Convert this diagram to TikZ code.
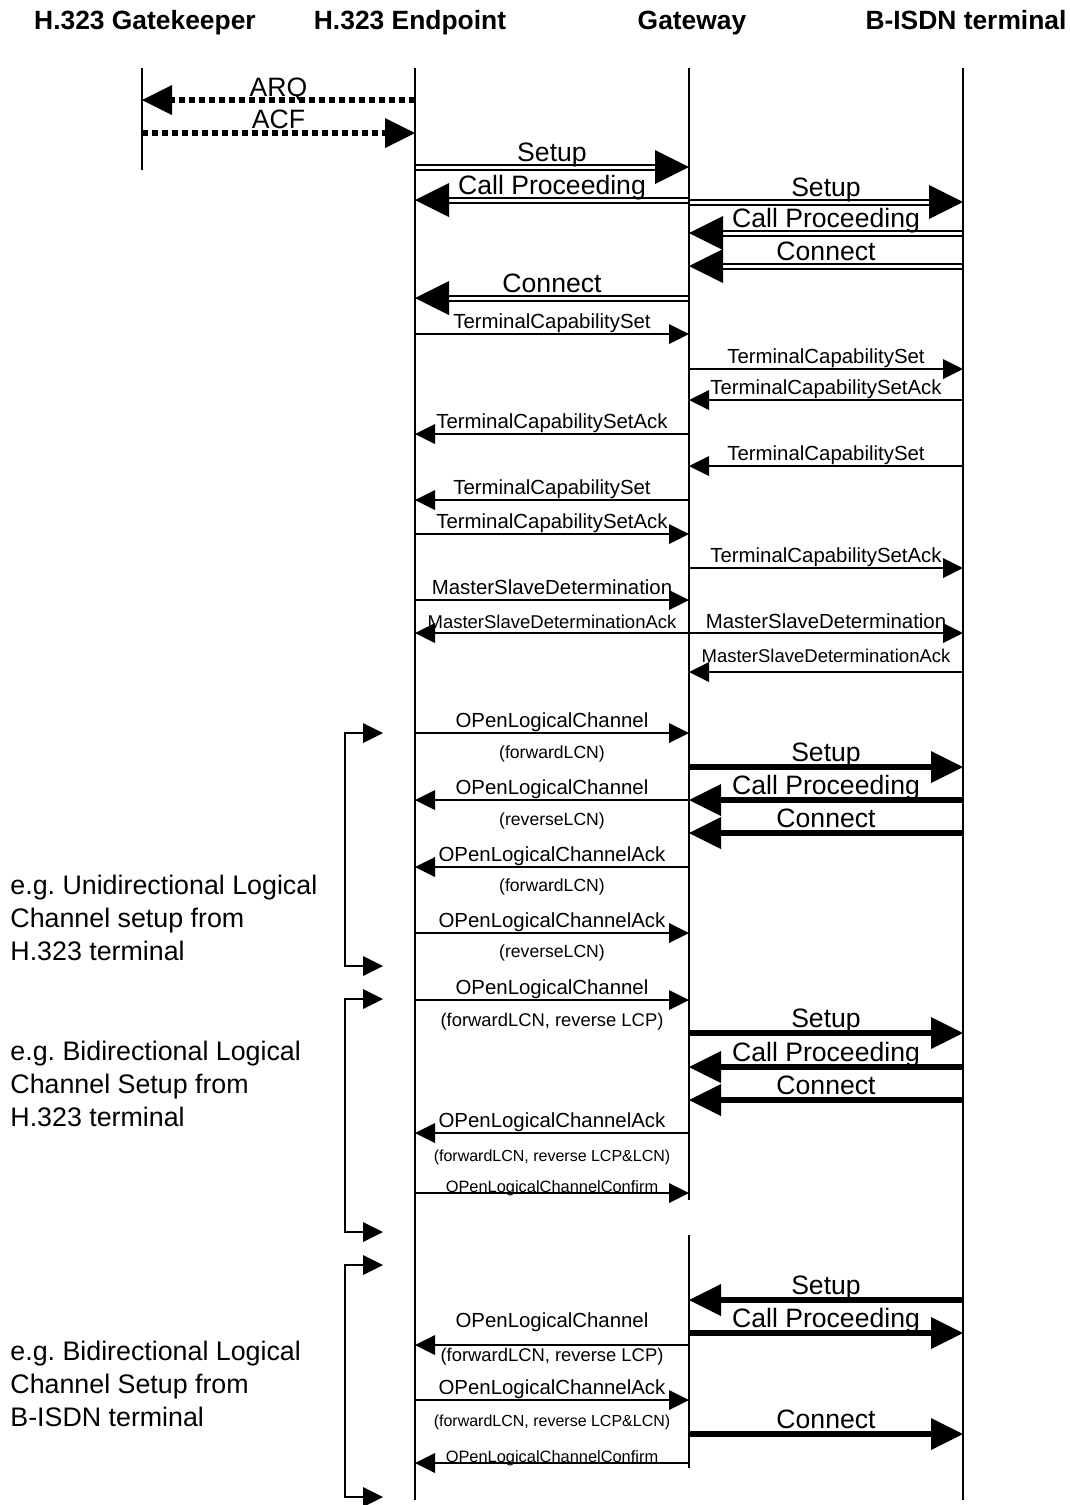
\documentclass[tikz,border=0pt]{standalone}
\usepackage{fontspec}
\setmainfont{Liberation Sans}
\usetikzlibrary{arrows.meta, calc}

% message between two lifelines at height #5
\newcommand{\msg}[6][midlbl,yshift=3pt]{%
  \draw[#2] (#3|-0,#5) -- node[anchor=base, #1] {#6} (#4|-0,#5);}
% thick call-control message
\newcommand{\tmsg}[4]{\msg[biglbl,yshift=2.75pt]{thick}{#1}{#2}{#3}{#4}}
% double-line call-control message
\newcommand{\dmsg}[4]{%
  \draw[dbl] (#1|-0,#3) -- node[anchor=base, biglbl, yshift=2.75pt] {#4} (#2|-0,#3);
  \draw[dblhead] ($(#2|-0,#3)!17pt!(#1|-0,#3)$) -- (#2|-0,#3);}

\begin{document}
\begin{tikzpicture}[
    x=0.5pt, y=-0.5pt,
    life/.style={line width=1.4pt},
    thin/.style={line width=0.75pt, -{Triangle[length=10pt, width=10pt, line width=0pt]}},
    thick/.style={line width=3.25pt, -{Triangle[length=16pt, width=16pt, line width=0pt]}},
    dots/.style={line width=2.8pt, dash pattern=on 3pt off 2pt,
                 -{Triangle[length=15pt, width=15pt, line width=0pt]}},
    dbl/.style={double, double distance=1.5pt, line width=1pt, shorten >=14pt},
    dblhead/.style={line width=1pt, -{Triangle[length=17pt, width=17pt, line width=0pt]}},
    brk/.style={line width=0.75pt, {Triangle[length=10pt, width=10pt, line width=0pt]}-{Triangle[length=10pt, width=10pt, line width=0pt]}},
    head/.style={anchor=base, font=\fontsize{13.2}{16}\selectfont\bfseries, inner sep=0pt},
    biglbl/.style={font=\fontsize{13.3}{16}\selectfont, inner sep=0pt},
    midlbl/.style={font=\fontsize{10.2}{12}\selectfont, inner sep=0pt},
    acklbl/.style={font=\fontsize{9.25}{11}\selectfont, inner sep=0pt},
    parlbl/.style={font=\fontsize{8.8}{11}\selectfont, inner sep=0pt},
    lcplbl/.style={font=\fontsize{9.2}{11}\selectfont, inner sep=0pt},
    lcnlbl/.style={font=\fontsize{8}{10}\selectfont, inner sep=0pt},
    cfmlbl/.style={font=\fontsize{8.2}{10}\selectfont, inner sep=0pt},
    note/.style={anchor=west, align=left, inner sep=0pt,
                 font=\fontsize{13.4}{16.5}\selectfont\frenchspacing},
  ]
  \useasboundingbox (0,0) rectangle (1070,1505);

  % headers and lifeline tops
  \node[head] (hgk) at (145,29) {H.323 Gatekeeper};
  \node[head] (hep) at (410,29) {H.323 Endpoint};
  \node[head] (hgw) at (692,29) {Gateway};
  \node[head] (hbt) at (966,29) {B-ISDN terminal};
  \coordinate (gk) at (142,68);
  \coordinate (ep) at (415,68);
  \coordinate (gw) at (689,68);
  \coordinate (bt) at (963,68);

  % admission and call setup
  \msg[biglbl,yshift=2pt]{dots}{ep}{gk}{100}{ARQ}
  \msg[biglbl,yshift=2.25pt]{dots}{gk}{ep}{133}{ACF}
  \dmsg{ep}{gw}{167}{Setup}
  \dmsg{gw}{ep}{200}{Call Proceeding}
  \dmsg{gw}{bt}{202}{Setup}
  \dmsg{bt}{gw}{233}{Call Proceeding}
  \dmsg{bt}{gw}{266}{Connect}
  \dmsg{gw}{ep}{298}{Connect}

  % capability exchange
  \msg{thin}{ep}{gw}{334}{TerminalCapabilitySet}
  \msg{thin}{gw}{bt}{369}{TerminalCapabilitySet}
  \msg{thin}{bt}{gw}{400}{TerminalCapabilitySetAck}
  \msg{thin}{gw}{ep}{434}{TerminalCapabilitySetAck}
  \msg{thin}{bt}{gw}{466}{TerminalCapabilitySet}
  \msg{thin}{gw}{ep}{500}{TerminalCapabilitySet}
  \msg{thin}{ep}{gw}{534}{TerminalCapabilitySetAck}
  \msg{thin}{gw}{bt}{568}{TerminalCapabilitySetAck}
  \msg{thin}{ep}{gw}{600}{MasterSlaveDetermination}
  \msg[acklbl,yshift=2.2pt]{thin}{gw}{ep}{633}{MasterSlaveDeterminationAck}
  \msg[midlbl,yshift=2.5pt]{thin}{gw}{bt}{633}{MasterSlaveDetermination}
  \msg[acklbl,yshift=4.7pt]{thin}{bt}{gw}{672}{MasterSlaveDeterminationAck}

  % unidirectional channel from H.323
  \msg{thin}{ep}{gw}{733}{OPenLogicalChannel}
  \node[parlbl] (p1) at (552,754) {(forwardLCN)};
  \tmsg{gw}{bt}{767}{Setup}
  \msg{thin}{gw}{ep}{800}{OPenLogicalChannel}
  \node[parlbl] (p2) at (552,821) {(reverseLCN)};
  \tmsg{bt}{gw}{800}{Call Proceeding}
  \tmsg{bt}{gw}{833}{Connect}
  \msg{thin}{gw}{ep}{867}{OPenLogicalChannelAck}
  \node[parlbl] (p3) at (552,887) {(forwardLCN)};
  \msg{thin}{ep}{gw}{933}{OPenLogicalChannelAck}
  \node[parlbl] (p4) at (552,953) {(reverseLCN)};

  % bidirectional channel from H.323
  \msg{thin}{ep}{gw}{1000}{OPenLogicalChannel}
  \node[lcplbl] (p5) at (552,1022) {(forwardLCN, reverse LCP)};
  \tmsg{gw}{bt}{1033}{Setup}
  \tmsg{bt}{gw}{1067}{Call Proceeding}
  \tmsg{bt}{gw}{1100}{Connect}
  \msg{thin}{gw}{ep}{1133}{OPenLogicalChannelAck}
  \node[lcnlbl] (p6) at (552,1157) {(forwardLCN, reverse LCP\&LCN)};
  \msg[cfmlbl,yshift=0.5pt]{thin}{ep}{gw}{1193}{OPenLogicalChannelConfirm}

  % bidirectional channel from B-ISDN
  \tmsg{bt}{gw}{1300}{Setup}
  \tmsg{gw}{bt}{1333}{Call Proceeding}
  \msg[midlbl,yshift=9pt]{thin}{gw}{ep}{1345}{OPenLogicalChannel}
  \node[lcplbl] (p7) at (552,1357) {(forwardLCN, reverse LCP)};
  \msg{thin}{ep}{gw}{1400}{OPenLogicalChannelAck}
  \node[lcnlbl] (p8) at (552,1422) {(forwardLCN, reverse LCP\&LCN)};
  \tmsg{gw}{bt}{1434}{Connect}
  \msg[cfmlbl,yshift=0.5pt]{thin}{gw}{ep}{1463}{OPenLogicalChannelConfirm}

  % lifelines on top of the message lines
  \draw[life] (gk) -- (gk|-0,170);
  \draw[life] (ep) -- (ep|-0,1500);
  \draw[life] (gw) -- (gw|-0,1200);
  \draw[life] (gw|-0,1235) -- (gw|-0,1468);
  \draw[life] (bt) -- (bt|-0,1500);

  % brackets and notes
  \coordinate (ua) at (383,733);  \coordinate (ub) at (383,966);
  \coordinate (va) at (383,999);  \coordinate (vb) at (383,1232);
  \coordinate (wa) at (383,1265); \coordinate (wb) at (383,1497);
  \draw[brk] (ua) -- ++(-38,0) |- (ub);
  \draw[brk] (va) -- ++(-38,0) |- (vb);
  \draw[brk] (wa) -- ++(-38,0) |- (wb);
  \node[note] (n1) at (10,918) {e.g. Unidirectional Logical\\Channel setup from\\H.323 terminal};
  \node[note] (n2) at (10,1084) {e.g. Bidirectional Logical\\Channel Setup from\\H.323 terminal};
  \node[note] (n3) at (10,1384) {e.g. Bidirectional Logical\\Channel Setup from\\B-ISDN terminal};
\end{tikzpicture}
\end{document}
